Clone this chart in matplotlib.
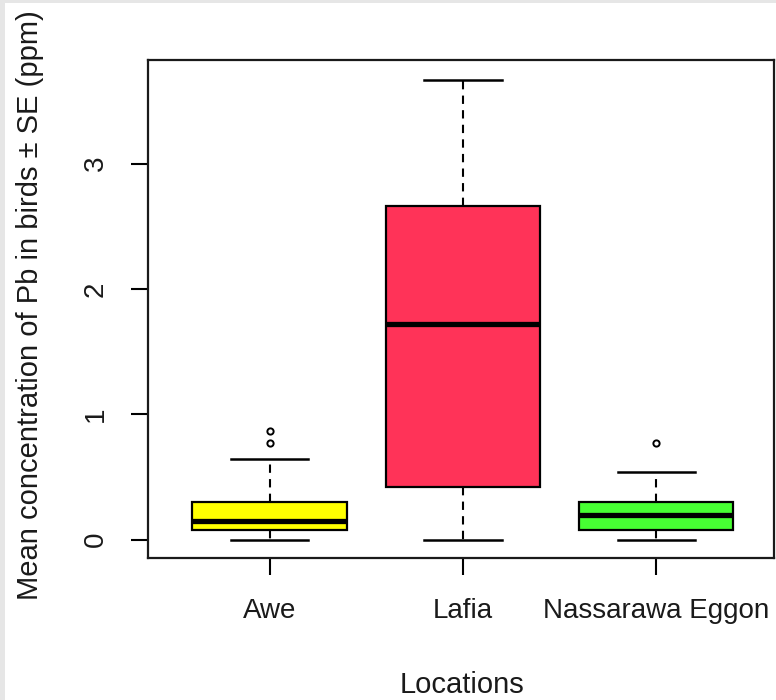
import matplotlib
matplotlib.use("Agg")
import matplotlib.pyplot as plt
from matplotlib.patches import Rectangle

plt.rcParams['font.family'] = ['Liberation Sans', 'DejaVu Sans']

# box statistics (ppm)
locations = ['Awe', 'Lafia', 'Nassarawa Eggon']
q1 = [0.08, 0.42, 0.08]
medians = [0.145, 1.72, 0.20]
q3 = [0.30, 2.66, 0.30]
whisker_low = [0.0, 0.0, 0.0]
whisker_high = [0.64, 3.67, 0.54]
outliers = [[0.77, 0.87], [], [0.77]]
colors = ['#FFFF00', '#FF3358', '#47FF33']

stats = []
for i, name in enumerate(locations):
    stats.append({
        'label': name,
        'q1': q1[i], 'med': medians[i], 'q3': q3[i],
        'whislo': whisker_low[i], 'whishi': whisker_high[i],
        'fliers': outliers[i],
    })

fig = plt.figure(figsize=(7.76, 7.0), dpi=100)
fig.patch.set_facecolor('white')
# thin grey border on the top and left edges
grey = '#e6e6e6'
fig.patches.append(Rectangle((0, 1 - 3 / 700), 1, 3 / 700, transform=fig.transFigure,
                             facecolor=grey, edgecolor='none', zorder=0))
fig.patches.append(Rectangle((0, 0), 5 / 776, 1, transform=fig.transFigure,
                             facecolor=grey, edgecolor='none', zorder=0))

ax = fig.add_axes([148 / 776, 1 - 558 / 700, 626 / 776, 498 / 700])
ax.set_zorder(2)
ax.set_facecolor('white')

bp = ax.bxp(stats, positions=[1, 2, 3], widths=0.8, patch_artist=True,
            showfliers=True,
            boxprops=dict(linewidth=1.6, edgecolor='black'),
            medianprops=dict(color='black', linewidth=3.8, solid_capstyle='butt'),
            whiskerprops=dict(color='black', linewidth=1.5, linestyle=(0, (4, 3))),
            capprops=dict(color='black', linewidth=1.8),
            capwidths=0.4,
            flierprops=dict(marker='o', markersize=4.5, markerfacecolor='white',
                            markeredgecolor='black', markeredgewidth=1.4))
for patch, c in zip(bp['boxes'], colors):
    patch.set_facecolor(c)

ax.set_xlim(0.37, 3.61)
ax.set_ylim(-0.147, 3.827)
ax.set_yticks([0, 1, 2, 3])
ax.set_xticks([1, 2, 3])
ax.set_xticklabels(locations)
for lab in ax.get_yticklabels():
    lab.set_rotation(90)
    lab.set_va('center')
ax.tick_params(axis='both', direction='out', length=12, width=1.5, labelsize=20,
               color='black', labelcolor='#1a1a1a')
ax.tick_params(axis='y', pad=16)
ax.tick_params(axis='x', pad=17)
for s in ax.spines.values():
    s.set_linewidth(1.6)
    s.set_color('#1a1a1a')

fig.text(30 / 776, 1 - 305 / 700, 'Mean concentration of Pb in birds \u00b1 SE (ppm)',
         rotation=90, ha='center', va='center', fontsize=21, color='#1a1a1a')
fig.text(462 / 776, 1 - 685 / 700, 'Locations', ha='center', va='center',
         fontsize=21, color='#1a1a1a')

fig.savefig('out.png', dpi=100, facecolor=fig.get_facecolor())
